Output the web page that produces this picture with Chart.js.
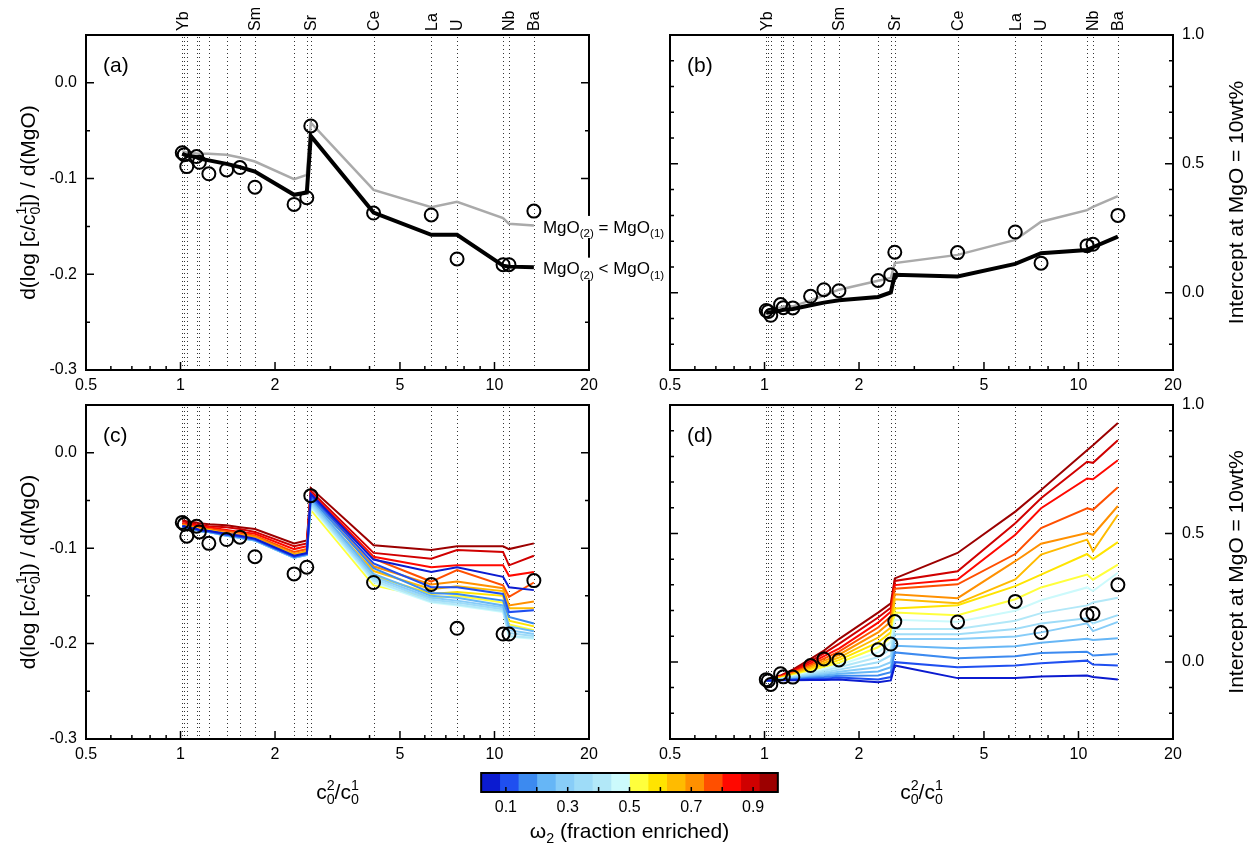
<!DOCTYPE html>
<html>
<head>
<meta charset="utf-8">
<script src="https://cdn.jsdelivr.net/npm/chart.js@4.4.1/dist/chart.umd.min.js"></script>
<style>
  html, body { margin: 0; padding: 0; background: #fff; }
  #wrap { position: relative; width: 1258px; height: 851px; overflow: hidden; }
  #wrap canvas { position: absolute; left: 0; top: 0; }
</style>
</head>
<body>
<div id="wrap">
  <canvas id="panelA" width="1258" height="851"></canvas>
  <canvas id="panelB" width="1258" height="851"></canvas>
  <canvas id="panelC" width="1258" height="851"></canvas>
  <canvas id="panelD" width="1258" height="851"></canvas>
  <canvas id="colorbar" width="1258" height="851"></canvas>
</div>
<script>
// ---- element ordering: enrichment ratio c0^2 / c0^1 ----
const ratioC0 = [1.013, 1.028, 1.047, 1.125, 1.148, 1.231, 1.402, 1.546, 1.726, 2.30, 2.525, 2.60, 4.12, 6.29, 7.60, 10.65, 11.12, 13.35];
const elementNames = ['Yb', '', '', '', '', '', '', '', 'Sm', '', '', 'Sr', 'Ce', 'La', 'U', '', 'Nb', 'Ba'];

// ---- observed regressions ----
const obsSlope = [-0.073, -0.075, -0.0875, -0.077, -0.083, -0.095, -0.091, -0.0885, -0.109, -0.127, -0.120, -0.045, -0.136, -0.138, -0.184, -0.190, -0.190, -0.134];
const obsIntercept = [-0.069, -0.073, -0.0876, -0.046, -0.058, -0.059, -0.014, 0.0116, 0.0077, 0.0475, 0.0695, 0.157, 0.1556, 0.2355, 0.1147, 0.1826, 0.188, 0.300];

// ---- two-component model, omega2 = 0.5 ----
const slopeSameMgO = [-0.0716, -0.072, -0.073, -0.0737, -0.074, -0.074, -0.0752, -0.078, -0.0822, -0.1006, -0.0961, -0.0415, -0.1118, -0.1299, -0.1243, -0.1414, -0.1473, -0.149];
const slopeLowerMgO = [-0.074, -0.075, -0.076, -0.0776, -0.079, -0.081, -0.0846, -0.088, -0.0927, -0.117, -0.1146, -0.0554, -0.1355, -0.1588, -0.1588, -0.191, -0.192, -0.1926];
const interceptSameMgO = [-0.072, -0.070, -0.066, -0.057, -0.054, -0.053, -0.030, -0.011, 0.0116, 0.0463, 0.0568, 0.1147, 0.1467, 0.2046, 0.2753, 0.3205, 0.333, 0.3745];
const interceptLowerMgO = [-0.078, -0.077, -0.076, -0.0695, -0.066, -0.063, -0.049, -0.0386, -0.0297, -0.0166, 0.0012, 0.0695, 0.063, 0.112, 0.153, 0.166, 0.1764, 0.2174];

// ---- model family over the enriched fraction omega2 ----
const omega2 = [0.05, 0.11, 0.17, 0.23, 0.29, 0.35, 0.41, 0.47, 0.53, 0.59, 0.65, 0.71, 0.77, 0.83, 0.89, 0.95];
const omegaColors = ['#0b1bd0', '#1f4ff0', '#3c8af0', '#66b6f6', '#88cdf8', '#9edcf8', '#b2e8f8', '#ccfafc',
                     '#ffff3c', '#ffe400', '#ffbb00', '#ff9000', '#ff4f00', '#ff0800', '#d00000', '#9c0000'];
const omegaBinEdges = [0.02, 0.08, 0.14, 0.20, 0.26, 0.32, 0.38, 0.44, 0.50, 0.56, 0.62, 0.68, 0.74, 0.80, 0.86, 0.92, 0.98];

const slopeW05 = [-0.077, -0.077, -0.078, -0.080, -0.081, -0.082, -0.085, -0.087, -0.090, -0.108, -0.105, -0.043, -0.112, -0.125, -0.120, -0.130, -0.141, -0.144];
const slopeW11 = [-0.077, -0.077, -0.078, -0.080, -0.081, -0.082, -0.086, -0.088, -0.091, -0.109, -0.106, -0.045, -0.116, -0.141, -0.141, -0.148, -0.167, -0.165];
const slopeW17 = [-0.078, -0.078, -0.079, -0.081, -0.082, -0.083, -0.086, -0.088, -0.091, -0.109, -0.106, -0.047, -0.121, -0.147, -0.148, -0.155, -0.172, -0.179];
const slopeW23 = [-0.078, -0.078, -0.079, -0.081, -0.082, -0.083, -0.087, -0.089, -0.092, -0.110, -0.107, -0.049, -0.127, -0.150, -0.152, -0.160, -0.182, -0.187];
const slopeW29 = [-0.078, -0.078, -0.079, -0.081, -0.082, -0.083, -0.087, -0.089, -0.092, -0.110, -0.107, -0.051, -0.130, -0.152, -0.155, -0.162, -0.186, -0.190];
const slopeW35 = [-0.078, -0.078, -0.079, -0.081, -0.082, -0.083, -0.087, -0.089, -0.092, -0.110, -0.107, -0.053, -0.132, -0.154, -0.157, -0.164, -0.189, -0.192];
const slopeW41 = [-0.078, -0.078, -0.079, -0.081, -0.082, -0.083, -0.087, -0.089, -0.092, -0.110, -0.107, -0.055, -0.134, -0.156, -0.159, -0.166, -0.192, -0.194];
const slopeW47 = [-0.078, -0.078, -0.079, -0.081, -0.082, -0.083, -0.087, -0.089, -0.092, -0.110, -0.107, -0.057, -0.136, -0.157, -0.160, -0.167, -0.193, -0.195];
const slopeW53 = [-0.078, -0.078, -0.079, -0.081, -0.082, -0.083, -0.086, -0.088, -0.091, -0.109, -0.106, -0.060, -0.139, -0.152, -0.150, -0.157, -0.180, -0.186];
const slopeW59 = [-0.077, -0.077, -0.078, -0.080, -0.081, -0.082, -0.086, -0.088, -0.091, -0.108, -0.105, -0.056, -0.129, -0.148, -0.146, -0.150, -0.176, -0.182];
const slopeW65 = [-0.077, -0.077, -0.078, -0.079, -0.080, -0.081, -0.085, -0.087, -0.090, -0.107, -0.104, -0.052, -0.124, -0.143, -0.140, -0.145, -0.163, -0.163];
const slopeW71 = [-0.076, -0.076, -0.077, -0.079, -0.080, -0.081, -0.084, -0.086, -0.088, -0.106, -0.103, -0.048, -0.119, -0.138, -0.135, -0.142, -0.160, -0.156];
const slopeW77 = [-0.075, -0.075, -0.076, -0.078, -0.079, -0.080, -0.082, -0.084, -0.087, -0.104, -0.101, -0.045, -0.111, -0.135, -0.123, -0.139, -0.151, -0.136];
const slopeW83 = [-0.074, -0.074, -0.075, -0.076, -0.077, -0.078, -0.081, -0.083, -0.085, -0.101, -0.098, -0.042, -0.109, -0.120, -0.118, -0.118, -0.129, -0.125];
const slopeW89 = [-0.072, -0.072, -0.073, -0.075, -0.076, -0.077, -0.078, -0.080, -0.083, -0.098, -0.095, -0.040, -0.105, -0.111, -0.102, -0.104, -0.118, -0.108];
const slopeW95 = [-0.071, -0.071, -0.072, -0.073, -0.074, -0.075, -0.076, -0.078, -0.080, -0.095, -0.092, -0.037, -0.097, -0.102, -0.098, -0.098, -0.101, -0.095];
const slopeByOmega = [slopeW05, slopeW11, slopeW17, slopeW23, slopeW29, slopeW35, slopeW41, slopeW47,
                      slopeW53, slopeW59, slopeW65, slopeW71, slopeW77, slopeW83, slopeW89, slopeW95];

const interceptW05 = [-0.072, -0.072, -0.072, -0.071, -0.071, -0.071, -0.070, -0.070, -0.068, -0.079, -0.072, -0.014, -0.063, -0.063, -0.057, -0.053, -0.059, -0.068];
const interceptW11 = [-0.072, -0.072, -0.072, -0.071, -0.070, -0.069, -0.066, -0.065, -0.061, -0.068, -0.059, -0.001, -0.021, -0.014, -0.005, 0.005, -0.010, -0.014];
const interceptW17 = [-0.072, -0.072, -0.072, -0.070, -0.069, -0.067, -0.062, -0.059, -0.054, -0.053, -0.040, 0.037, 0.014, 0.022, 0.035, 0.040, 0.025, 0.031];
const interceptW23 = [-0.072, -0.072, -0.072, -0.069, -0.068, -0.065, -0.058, -0.053, -0.046, -0.037, -0.021, 0.063, 0.053, 0.061, 0.075, 0.090, 0.085, 0.092];
const interceptW29 = [-0.072, -0.072, -0.072, -0.068, -0.067, -0.063, -0.054, -0.047, -0.038, -0.021, -0.001, 0.089, 0.089, 0.099, 0.115, 0.150, 0.120, 0.156];
const interceptW35 = [-0.072, -0.072, -0.072, -0.067, -0.066, -0.061, -0.050, -0.041, -0.030, -0.001, 0.025, 0.108, 0.108, 0.128, 0.150, 0.170, 0.150, 0.182];
const interceptW41 = [-0.072, -0.072, -0.071, -0.066, -0.064, -0.058, -0.045, -0.034, -0.021, 0.018, 0.050, 0.128, 0.128, 0.160, 0.190, 0.220, 0.231, 0.250];
const interceptW47 = [-0.072, -0.072, -0.070, -0.065, -0.063, -0.056, -0.040, -0.027, -0.012, 0.037, 0.076, 0.164, 0.156, 0.199, 0.240, 0.290, 0.276, 0.347];
const interceptW53 = [-0.072, -0.072, -0.070, -0.064, -0.062, -0.053, -0.035, -0.020, -0.003, 0.057, 0.095, 0.192, 0.182, 0.244, 0.290, 0.340, 0.320, 0.379];
const interceptW59 = [-0.072, -0.072, -0.069, -0.063, -0.060, -0.051, -0.030, -0.012, 0.007, 0.076, 0.115, 0.208, 0.221, 0.295, 0.340, 0.420, 0.400, 0.466];
const interceptW65 = [-0.072, -0.072, -0.068, -0.061, -0.058, -0.048, -0.024, -0.004, 0.017, 0.095, 0.134, 0.244, 0.228, 0.321, 0.418, 0.476, 0.431, 0.573];
const interceptW71 = [-0.072, -0.071, -0.067, -0.060, -0.057, -0.045, -0.018, 0.004, 0.028, 0.115, 0.156, 0.263, 0.248, 0.392, 0.460, 0.502, 0.495, 0.607];
const interceptW77 = [-0.072, -0.071, -0.066, -0.058, -0.055, -0.042, -0.012, 0.013, 0.040, 0.134, 0.177, 0.285, 0.302, 0.420, 0.521, 0.598, 0.592, 0.680];
const interceptW83 = [-0.072, -0.071, -0.065, -0.057, -0.053, -0.038, -0.005, 0.023, 0.052, 0.153, 0.195, 0.299, 0.321, 0.495, 0.598, 0.714, 0.711, 0.785];
const interceptW89 = [-0.072, -0.070, -0.064, -0.055, -0.050, -0.034, 0.003, 0.033, 0.070, 0.173, 0.211, 0.315, 0.353, 0.540, 0.637, 0.779, 0.775, 0.863];
const interceptW95 = [-0.072, -0.070, -0.063, -0.053, -0.048, -0.030, 0.012, 0.044, 0.089, 0.192, 0.228, 0.325, 0.424, 0.585, 0.669, 0.824, 0.843, 0.930];
const interceptByOmega = [interceptW05, interceptW11, interceptW17, interceptW23, interceptW29, interceptW35, interceptW41, interceptW47,
                          interceptW53, interceptW59, interceptW65, interceptW71, interceptW77, interceptW83, interceptW89, interceptW95];

// ---- axis ticks ----
const xTickValues = [0.5, 1, 2, 5, 10, 20];
const xMinorTicks = [0.6, 0.7, 0.8, 0.9, 3, 4, 6, 7, 8, 9];
const slopeTicks = [-0.3, -0.2, -0.1, 0.0];
const slopeMinorTicks = [-0.25, -0.15, -0.05];
const interceptTicks = [0.0, 0.5, 1.0];
const interceptMinorTicks = [-0.2, -0.1, 0.1, 0.2, 0.3, 0.4, 0.6, 0.7, 0.8, 0.9];
const colorbarTickMarks = [0.1, 0.2, 0.3, 0.4, 0.5, 0.6, 0.7, 0.8, 0.9];
const colorbarTickLabels = [0.1, 0.3, 0.5, 0.7, 0.9];

const FONT = "'Liberation Sans', Arial, Helvetica, sans-serif";
const W = 1258, H = 851;

// ---- text with sub/superscripts ----
function partsWidth(ctx, parts, size) {
  let w = 0;
  for (const p of parts) {
    if (p.t !== undefined) { ctx.font = size + 'px ' + FONT; w += ctx.measureText(p.t).width; }
    else {
      ctx.font = (size * 0.68) + 'px ' + FONT;
      w += Math.max(p.sub ? ctx.measureText(p.sub).width : 0, p.sup ? ctx.measureText(p.sup).width : 0);
    }
  }
  return w;
}
function drawRich(ctx, parts, x, yMid, size, align, boxed) {
  ctx.save();
  const width = partsWidth(ctx, parts, size);
  let cx = align === 'center' ? x - width / 2 : x;
  if (boxed) {
    // white backing so the text reads cleanly where it crosses the frame
    ctx.fillStyle = '#fff';
    ctx.fillRect(cx - 2, yMid - size * 0.62, width + 4, size * 1.3);
  }
  ctx.fillStyle = '#000';
  ctx.textAlign = 'left';
  ctx.textBaseline = 'alphabetic';
  const base = yMid + size * 0.36;
  for (const p of parts) {
    if (p.t !== undefined) {
      ctx.font = size + 'px ' + FONT;
      ctx.fillText(p.t, cx, base);
      cx += ctx.measureText(p.t).width;
    } else {
      ctx.font = (size * 0.68) + 'px ' + FONT;
      let w = 0;
      if (p.sub) { ctx.fillText(p.sub, cx, base + size * 0.26); w = ctx.measureText(p.sub).width; }
      if (p.sup) { ctx.fillText(p.sup, cx, base - size * 0.42); w = Math.max(w, ctx.measureText(p.sup).width); }
      cx += w;
    }
  }
  ctx.restore();
}

const slopeTitle = [{t: 'd(log [c/c'}, {sub: '0', sup: '1'}, {t: ']) / d(MgO)'}];
const interceptTitle = [{t: 'Intercept at MgO = 10wt%'}];
const ratioTitle = [{t: 'c'}, {sub: '0', sup: '2'}, {t: '/c'}, {sub: '0', sup: '1'}];

// ---- panel decorations: element guides, frame, inward ticks, labels ----
const panelDecor = {
  id: 'panelDecor',
  beforeDatasetsDraw(chart, args, opts) {
    const {ctx, chartArea: a} = chart;
    const xs = chart.scales.x;
    ctx.save();
    ctx.strokeStyle = '#333';
    ctx.lineWidth = 1;
    ctx.setLineDash([1, 3]);
    for (const r of ratioC0) {
      const px = Math.round(xs.getPixelForValue(r)) + 0.5;
      ctx.beginPath();
      ctx.moveTo(px, a.top + 2);
      ctx.lineTo(px, a.bottom);
      ctx.stroke();
    }
    ctx.restore();
  },
  afterDatasetsDraw(chart, args, opts) {
    const {ctx, chartArea: a} = chart;
    const xs = chart.scales.x, ys = chart.scales.y;
    ctx.save();
    ctx.strokeStyle = '#000';
    // inward y ticks on both sides
    ctx.lineWidth = 1.5;
    const yTick = (v, len) => {
      const py = ys.getPixelForValue(v);
      ctx.beginPath();
      ctx.moveTo(a.left, py); ctx.lineTo(a.left + len, py);
      ctx.moveTo(a.right, py); ctx.lineTo(a.right - len, py);
      ctx.stroke();
    };
    opts.yMajor.forEach(v => yTick(v, 8));
    opts.yMinor.forEach(v => yTick(v, 4));
    // inward x ticks along the bottom
    const xTick = (v, len) => {
      const px = xs.getPixelForValue(v);
      ctx.beginPath();
      ctx.moveTo(px, a.bottom); ctx.lineTo(px, a.bottom - len);
      ctx.stroke();
    };
    xTickValues.forEach(v => xTick(v, 8));
    xMinorTicks.forEach(v => xTick(v, 4));
    // frame
    ctx.lineWidth = 2;
    ctx.strokeRect(a.left, a.top, a.right - a.left, a.bottom - a.top);
    // panel tag
    ctx.fillStyle = '#000';
    ctx.font = '21px ' + FONT;
    ctx.textAlign = 'left';
    ctx.textBaseline = 'middle';
    ctx.fillText(opts.tag, a.left + 17, a.top + 31);
    // element names above the top panels
    if (opts.elementNames) {
      ctx.font = '16px ' + FONT;
      elementNames.forEach((name, i) => {
        if (!name) return;
        const px = xs.getPixelForValue(ratioC0[i]);
        ctx.save();
        ctx.translate(px + 1, a.top - 4);
        ctx.rotate(-Math.PI / 2);
        ctx.textAlign = 'left';
        ctx.textBaseline = 'middle';
        ctx.fillText(name, 0, 0);
        ctx.restore();
      });
    }
    // x axis title
    if (opts.xTitle) drawRich(ctx, ratioTitle, (a.left + a.right) / 2, a.bottom + 52, 21, 'center');
    // y axis title
    if (opts.yTitle) {
      ctx.save();
      const cx = opts.yTitleSide === 'left' ? 27 : 1235;
      ctx.translate(cx, (a.top + a.bottom) / 2);
      ctx.rotate(-Math.PI / 2);
      drawRich(ctx, opts.yTitle, 0, 0, 21, 'center');
      ctx.restore();
    }
    // line annotations at the end of the two model curves
    if (opts.curveNotes) {
      const last = ratioC0.length - 1;
      const px = xs.getPixelForValue(ratioC0[last]) + 9;
      drawRich(ctx, [{t: 'MgO'}, {sub: '(2)'}, {t: ' = MgO'}, {sub: '(1)'}], px, ys.getPixelForValue(slopeSameMgO[last]) + 1, 17, 'left', true);
      drawRich(ctx, [{t: 'MgO'}, {sub: '(2)'}, {t: ' < MgO'}, {sub: '(1)'}], px, ys.getPixelForValue(slopeLowerMgO[last]) + 1, 17, 'left', true);
    }
    ctx.restore();
  }
};

const pts = arr => ratioC0.map((x, i) => ({x: x, y: arr[i]}));

function circleSet(arr) {
  return {
    data: pts(arr), showLine: false, order: 0,
    pointRadius: 6.5, pointBorderWidth: 2, pointBorderColor: '#000', pointBackgroundColor: 'rgba(0,0,0,0)'
  };
}
function curveSet(arr, color, width, order) {
  return {data: pts(arr), showLine: true, borderColor: color, borderWidth: width, pointRadius: 0, order: order, tension: 0, borderJoinStyle: 'miter'};
}

function makePanel(id, area, yMin, yMax, ySide, yMajor, yMinor, datasets, decor) {
  const yWidth = 60, xHeight = 30;
  const padding = {
    left: ySide === 'left' ? area.l - yWidth : area.l,
    right: ySide === 'right' ? W - area.r - yWidth : W - area.r,
    top: area.t,
    bottom: H - area.b - xHeight
  };
  decor.yMajor = yMajor;
  decor.yMinor = yMinor;
  return new Chart(document.getElementById(id), {
    type: 'scatter',
    data: {datasets: datasets},
    options: {
      responsive: false, animation: false, events: [],
      layout: {padding: padding},
      plugins: {legend: {display: false}, tooltip: {enabled: false}, panelDecor: decor},
      scales: {
        x: {
          type: 'logarithmic', min: 0.5, max: 20, position: 'bottom',
          grid: {display: false, drawTicks: false}, border: {display: false},
          ticks: {font: {family: FONT, size: 16}, color: '#000', padding: 6, maxRotation: 0, autoSkip: false,
                  callback: v => String(v)},
          afterBuildTicks: s => { s.ticks = xTickValues.map(v => ({value: v})); },
          afterFit: s => { s.height = xHeight; }
        },
        y: {
          type: 'linear', min: yMin, max: yMax, position: ySide,
          grid: {display: false, drawTicks: false}, border: {display: false},
          ticks: {font: {family: FONT, size: 16}, color: '#000', padding: 9, autoSkip: false,
                  callback: v => Number(v).toFixed(1)},
          afterBuildTicks: s => { s.ticks = yMajor.map(v => ({value: v})); },
          afterFit: s => { s.width = yWidth; }
        }
      }
    },
    plugins: [panelDecor]
  });
}

const familySets = arrs => arrs.map((arr, k) => curveSet(arr, omegaColors[k], 2, 1 + k));

// (a) slopes, two-component model
makePanel('panelA', {l: 86, r: 589, t: 35, b: 370}, -0.3, 0.05, 'left', slopeTicks, slopeMinorTicks,
  [circleSet(obsSlope), curveSet(slopeLowerMgO, '#000', 4, 1), curveSet(slopeSameMgO, '#aaaaaa', 2.5, 2)],
  {tag: '(a)', elementNames: true, yTitle: slopeTitle, yTitleSide: 'left', curveNotes: true});

// (b) intercepts, two-component model
makePanel('panelB', {l: 670, r: 1173, t: 35, b: 370}, -0.3, 1.0, 'right', interceptTicks, interceptMinorTicks,
  [circleSet(obsIntercept), curveSet(interceptLowerMgO, '#000', 4, 1), curveSet(interceptSameMgO, '#aaaaaa', 2.5, 2)],
  {tag: '(b)', elementNames: true, yTitle: interceptTitle, yTitleSide: 'right'});

// (c) slopes across omega2
makePanel('panelC', {l: 86, r: 589, t: 405, b: 739}, -0.3, 0.05, 'left', slopeTicks, slopeMinorTicks,
  [circleSet(obsSlope)].concat(familySets(slopeByOmega)),
  {tag: '(c)', xTitle: true, yTitle: slopeTitle, yTitleSide: 'left'});

// (d) intercepts across omega2
makePanel('panelD', {l: 670, r: 1173, t: 405, b: 739}, -0.3, 1.0, 'right', interceptTicks, interceptMinorTicks,
  [circleSet(obsIntercept)].concat(familySets(interceptByOmega)),
  {tag: '(d)', xTitle: true, yTitle: interceptTitle, yTitleSide: 'right'});

// ---- colour bar for omega2 ----
const colorbarDecor = {
  id: 'colorbarDecor',
  afterDatasetsDraw(chart) {
    const {ctx, chartArea: a} = chart;
    const xs = chart.scales.x;
    const x0 = xs.getPixelForValue(omegaBinEdges[0]);
    const x1 = xs.getPixelForValue(omegaBinEdges[omegaBinEdges.length - 1]);
    ctx.save();
    ctx.strokeStyle = '#000';
    ctx.lineWidth = 1.5;
    colorbarTickMarks.forEach(v => {
      const px = xs.getPixelForValue(v);
      ctx.beginPath(); ctx.moveTo(px, a.bottom); ctx.lineTo(px, a.bottom - 5); ctx.stroke();
    });
    ctx.lineWidth = 2;
    ctx.strokeRect(x0, a.top, x1 - x0, a.bottom - a.top);
    ctx.fillStyle = '#000';
    ctx.font = '16px ' + FONT;
    ctx.textAlign = 'center';
    ctx.textBaseline = 'middle';
    colorbarTickLabels.forEach(v => ctx.fillText(v.toFixed(1), xs.getPixelForValue(v), a.bottom + 16));
    drawRich(ctx, [{t: 'ω'}, {sub: '2'}, {t: ' (fraction enriched)'}], (x0 + x1) / 2, a.bottom + 38, 21, 'center');
    ctx.restore();
  }
};

new Chart(document.getElementById('colorbar'), {
  type: 'bar',
  data: {
    labels: ['omega2'],
    datasets: omegaColors.map((c, k) => ({
      data: [[omegaBinEdges[k], omegaBinEdges[k + 1]]],
      backgroundColor: c, borderWidth: 0, grouped: false,
      barPercentage: 1, categoryPercentage: 1
    }))
  },
  options: {
    indexAxis: 'y', responsive: false, animation: false, events: [],
    layout: {padding: {left: 475, right: W - 784, top: 773, bottom: H - 792}},
    plugins: {legend: {display: false}, tooltip: {enabled: false}},
    scales: {
      x: {type: 'linear', min: 0, max: 1, display: false},
      y: {display: false}
    }
  },
  plugins: [colorbarDecor]
});
</script>
</body>
</html>
